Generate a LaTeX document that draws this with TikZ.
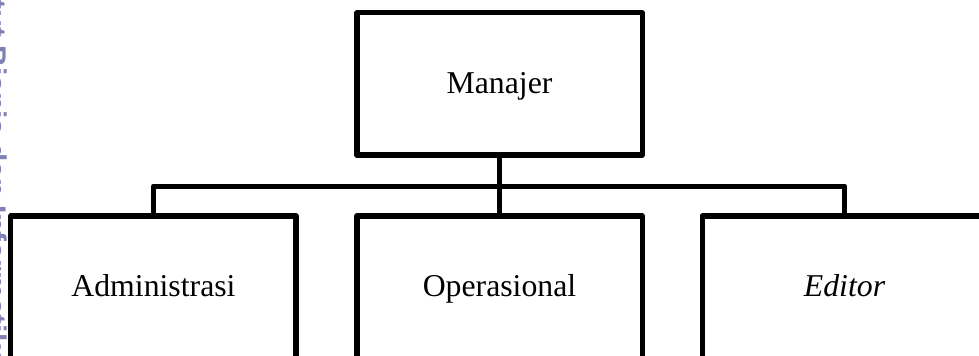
\documentclass[tikz,border=0pt]{standalone}
\usepackage{fontspec}
\setmainfont{Liberation Serif}
\newfontfamily\markfont{Liberation Sans}
\usetikzlibrary{positioning}
\definecolor{markblue}{RGB}{60,60,140}

\begin{document}
\begin{tikzpicture}[
    post/.style={draw=black, line width=1.9pt, line join=round, minimum width=3.785cm, minimum height=1.886cm, inner sep=0pt, text height=0.9em, text depth=0.2em, font=\fontsize{12}{14}\selectfont},
    link/.style={line width=1.9pt, line join=round}]
        \useasboundingbox (0,0) rectangle (13,4.714);
        \clip (0,0) rectangle (13,4.714);
        \node [post] (manajer) at (6.633,3.599) {Manajer};
        \node [post] (admin) at (2.038,0.903) {Administrasi};
        \node [post] (oper) at (6.633,0.903) {Operasional};
        \node [post] (editor) at (11.215,0.903) {\textit{Editor}};
        \coordinate (bus) at (6.633,2.244);
      \draw [link] (manajer.south) -- (bus);
      \draw [link] (admin.north) |- (bus) -| (editor.north);
      \draw [link] (bus) -- (oper.north);
        % watermark at the left edge
        \node [rotate=-90, anchor=base west, inner sep=0pt, text=markblue, opacity=0.65, font=\markfont\bfseries\fontsize{11.3}{13}\selectfont] (mark) at (-0.19,5.55) {Institut Bisnis dan Informatika Kwik Kian Gie};
    \end{tikzpicture}
\end{document}
